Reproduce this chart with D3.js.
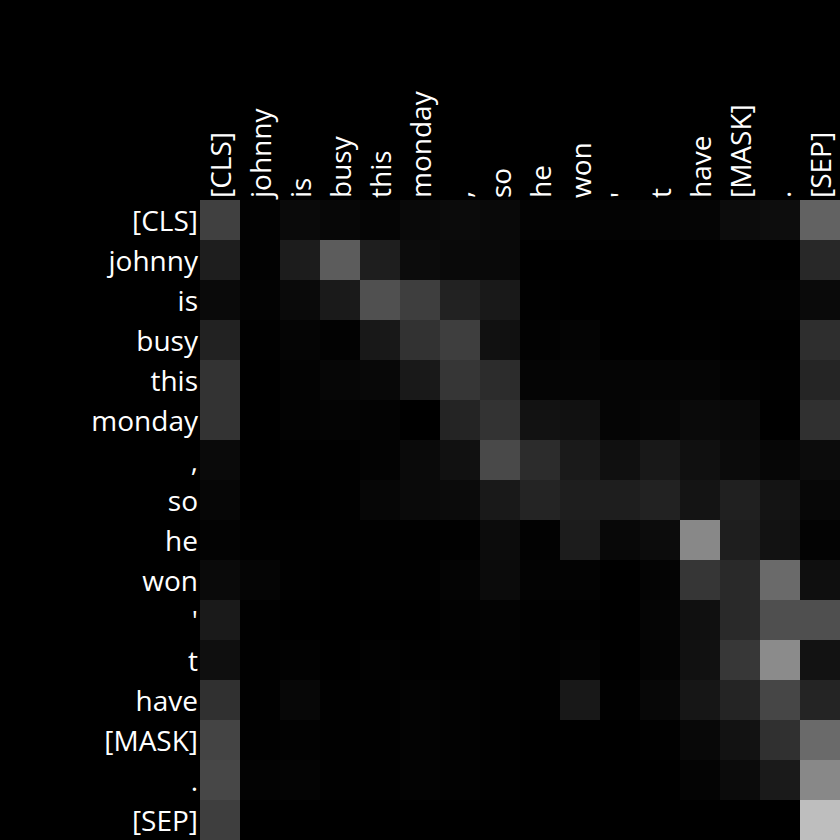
<!DOCTYPE html>
<html>
<head>
<meta charset="utf-8">
<script src="https://cdn.jsdelivr.net/npm/d3@7"></script>
<style>
html,body{margin:0;padding:0;background:#000;}
svg{display:block;}
</style>
</head>
<body>
<svg id="chart" width="840" height="840"></svg>
<script>
// Tokens (rows = query tokens, columns = key tokens)
const tokens = ["[CLS]","johnny","is","busy","this","monday",",","so","he","won","'","t","have","[MASK]",".","[SEP]"];

// Attention weights (0..1), read from the grey level of each cell
const row0  = [0.251,0.008,0.039,0.027,0.020,0.035,0.043,0.035, 0.012,0.012,0.012,0.016,0.020,0.047,0.051,0.384];
const row1  = [0.118,0.008,0.110,0.361,0.118,0.047,0.035,0.035, 0.000,0.000,0.000,0.000,0.000,0.004,0.000,0.157];
const row2  = [0.039,0.012,0.039,0.102,0.314,0.243,0.133,0.098, 0.004,0.000,0.000,0.000,0.000,0.004,0.008,0.039];
const row3  = [0.133,0.004,0.020,0.008,0.094,0.196,0.243,0.067, 0.008,0.016,0.000,0.000,0.004,0.000,0.000,0.180];
const row4  = [0.200,0.000,0.012,0.024,0.031,0.098,0.212,0.173, 0.020,0.020,0.020,0.020,0.020,0.008,0.004,0.145];
const row5  = [0.200,0.000,0.012,0.016,0.012,0.000,0.141,0.200, 0.071,0.067,0.020,0.024,0.039,0.035,0.000,0.188];
const row6  = [0.039,0.000,0.004,0.004,0.012,0.039,0.067,0.286, 0.173,0.102,0.063,0.094,0.063,0.043,0.024,0.047];
const row7  = [0.024,0.000,0.000,0.004,0.024,0.039,0.043,0.098, 0.141,0.118,0.118,0.133,0.078,0.125,0.078,0.027];
const row8  = [0.012,0.004,0.004,0.004,0.004,0.004,0.004,0.047, 0.008,0.110,0.031,0.047,0.533,0.118,0.071,0.012];
const row9  = [0.039,0.020,0.004,0.000,0.004,0.004,0.016,0.043, 0.012,0.012,0.000,0.016,0.212,0.161,0.416,0.059];
const row10 = [0.102,0.004,0.000,0.000,0.000,0.000,0.008,0.012, 0.004,0.004,0.000,0.020,0.063,0.161,0.310,0.310];
const row11 = [0.059,0.004,0.008,0.000,0.008,0.004,0.004,0.008, 0.004,0.012,0.000,0.016,0.067,0.216,0.545,0.071];
const row12 = [0.188,0.004,0.027,0.004,0.004,0.012,0.008,0.004, 0.004,0.094,0.004,0.027,0.086,0.141,0.275,0.141];
const row13 = [0.267,0.004,0.008,0.004,0.004,0.012,0.008,0.004, 0.000,0.000,0.000,0.004,0.031,0.071,0.188,0.416];
const row14 = [0.278,0.012,0.016,0.004,0.004,0.012,0.008,0.004, 0.000,0.000,0.000,0.000,0.016,0.043,0.102,0.533];
const row15 = [0.243,0.000,0.000,0.000,0.000,0.000,0.000,0.000, 0.000,0.000,0.000,0.000,0.000,0.000,0.000,0.745];
const weights = [row0,row1,row2,row3,row4,row5,row6,row7,row8,row9,row10,row11,row12,row13,row14,row15];

const svg = d3.select("#chart");
const gridLeft = 200, gridTop = 200, gridSize = 640;

const x = d3.scaleBand().domain(d3.range(tokens.length)).range([gridLeft, gridLeft + gridSize]);
const y = d3.scaleBand().domain(d3.range(tokens.length)).range([gridTop, gridTop + gridSize]);
const color = d3.scaleLinear().domain([0, 1]).range(["#000000", "#ffffff"]);

const cells = [];
weights.forEach((r, i) => r.forEach((v, j) => cells.push({i, j, v})));

svg.append("rect").attr("width", 840).attr("height", 840).attr("fill", "#000");

svg.append("g").selectAll("rect").data(cells).join("rect")
  .attr("x", d => x(d.j))
  .attr("y", d => y(d.i))
  .attr("width", x.bandwidth())
  .attr("height", y.bandwidth())
  .attr("fill", d => color(d.v))
  .attr("shape-rendering", "crispEdges");

const font = "'Open Sans', 'Noto Sans', sans-serif";

// Row labels
svg.append("g").selectAll("text").data(tokens).join("text")
  .attr("x", gridLeft - 2)
  .attr("y", (d, i) => y(i) + y.bandwidth() / 2)
  .attr("text-anchor", "end")
  .attr("dominant-baseline", "central")
  .attr("fill", "#fff")
  .attr("font-family", font)
  .attr("font-size", 28)
  .text(d => d);

// Column labels (rotated)
svg.append("g").selectAll("text").data(tokens).join("text")
  .attr("transform", (d, i) => `translate(${x(i) + x.bandwidth() / 2},${gridTop - 2}) rotate(-90)`)
  .attr("text-anchor", "start")
  .attr("dominant-baseline", "central")
  .attr("fill", "#fff")
  .attr("font-family", font)
  .attr("font-size", 28)
  .text(d => d);
</script>
</body>
</html>
